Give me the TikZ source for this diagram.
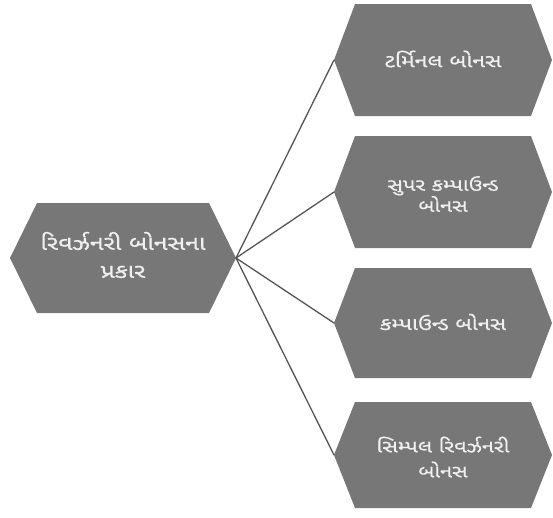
\documentclass[tikz,border=0pt]{standalone}
\usepackage{fontspec}
\newfontfamily\guj[Script=Gujarati,FakeStretch=1.25,FakeBold=0.6]{Noto Sans Gujarati UI}
\definecolor{hexfill}{HTML}{777777}
\definecolor{linecol}{HTML}{555555}
\definecolor{txtcol}{HTML}{F0F0F0}
\tikzset{
  hexlabel/.style={text=txtcol, align=center, inner sep=0pt},
  conn/.style={draw=linecol, line width=1.3pt},
}
\newcommand{\gsize}[2]{\guj\fontsize{#1}{#2}\selectfont}
\newcommand{\hexbox}[6]{% name, cx, cy, halfwidth, halfheight, inset
  \fill[hexfill] (#2-#4,#3) -- (#2-#4+#6,#3-#5) -- (#2+#4-#6,#3-#5) -- (#2+#4,#3) -- (#2+#4-#6,#3+#5) -- (#2-#4+#6,#3+#5) -- cycle;
  \coordinate (#1W) at (#2-#4,#3);
  \coordinate (#1E) at (#2+#4,#3);
}
\begin{document}
\begin{tikzpicture}[x=1pt,y=-1pt]
\useasboundingbox (0,0) rectangle (553,517);
\hexbox{root}{123}{258}{113}{55}{27}
\hexbox{a}{443}{60}{109}{56}{21}
\hexbox{b}{443}{192}{109}{56}{21}
\hexbox{c}{443}{323}{109}{55}{21}
\hexbox{d}{443}{455}{109}{53}{21}
\node[hexlabel, font=\gsize{20}{28}] (root) at (123,255) {રિવર્ઝનરી બોનસના\\પ્રકાર};
\node[hexlabel, font=\gsize{18.5}{21}] (a) at (443,59) {ટર્મિનલ બોનસ};
\node[hexlabel, font=\gsize{17.5}{21}] (b) at (443,194) {સુપર કમ્પાઉન્ડ\\બોનસ};
\node[hexlabel, font=\gsize{18}{21}] (c) at (443,322) {કમ્પાઉન્ડ બોનસ};
\node[hexlabel, font=\gsize{17.5}{25}] (d) at (443,457) {સિમ્પલ રિવર્ઝનરી\\બોનસ};
\draw[conn] (rootE) -- (aW);
\draw[conn] (rootE) -- (bW);
\draw[conn] (rootE) -- (cW);
\draw[conn] (rootE) -- (dW);
\end{tikzpicture}
\end{document}
